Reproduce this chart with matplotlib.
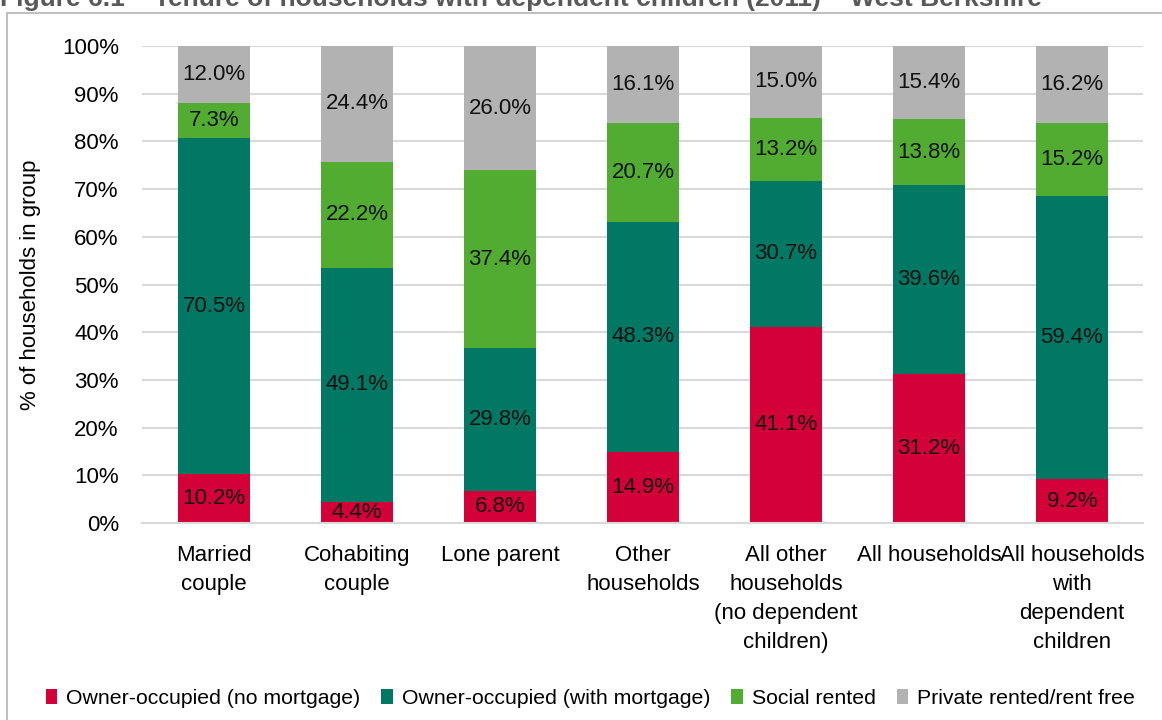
import numpy as np
import matplotlib.pyplot as plt
from matplotlib.patches import Rectangle

plt.rcParams['font.family'] = ['Liberation Sans', 'DejaVu Sans']

categories = ["Married\ncouple", "Cohabiting\ncouple", "Lone parent", "Other\nhouseholds",
              "All other\nhouseholds\n(no dependent\nchildren)", "All households",
              "All households\nwith\ndependent\nchildren"]
series_names = ["Owner-occupied (no mortgage)", "Owner-occupied (with mortgage)",
                "Social rented", "Private rented/rent free"]
no_mortgage = [10.2, 4.4, 6.8, 14.9, 41.1, 31.2, 9.2]
with_mortgage = [70.5, 49.1, 29.8, 48.3, 30.7, 39.6, 59.4]
social_rented = [7.3, 22.2, 37.4, 20.7, 13.2, 13.8, 15.2]
private_rented = [12.0, 24.4, 26.0, 16.1, 15.0, 15.4, 16.2]
colors = ["#D40038", "#007864", "#53AC32", "#B2B2B2"]

fig = plt.figure(figsize=(11.62, 7.2), dpi=100)
ax = fig.add_axes([0.1226, 0.2736, 0.8614, 0.6625])

# frame around the chart
fig.patches.append(Rectangle((7/1162, -0.01), 1.02, (720-13)/720 + 0.01, transform=fig.transFigure,
                             fill=False, edgecolor="#C0C0C0", linewidth=1.5))

# title sits partly above the picture, as in the source image
fig.text(0.0, (720-6)/720, "Figure 6.1 \u2013 Tenure of households with dependent children (2011) \u2013 West Berkshire",
         fontsize=19, fontweight='bold', color="#595959", va='baseline', ha='left')

x = np.arange(len(categories))
bottom = np.zeros(len(categories))
for name, vals, c in zip(series_names, [no_mortgage, with_mortgage, social_rented, private_rented], colors):
    vals = np.array(vals)
    ax.bar(x, vals, 0.5, bottom=bottom, color=c, label=name, zorder=2)
    for xi, b, v in zip(x, bottom, vals):
        ax.text(xi, b + v / 2, f"{v:.1f}%", ha='center', va='center', fontsize=16, color='#111111', zorder=3)
    bottom += vals

ax.set_xlim(-0.5, len(categories) - 0.5)
ax.set_ylim(0, 100)
ax.set_yticks(np.arange(0, 101, 10))
ax.set_yticklabels([f"{v}%" for v in range(0, 101, 10)], fontsize=16)
ax.set_xticks(x)
ax.set_xticklabels(categories, fontsize=16, linespacing=1.5, va='top')
ax.tick_params(axis='y', length=0, pad=17)
ax.tick_params(axis='x', length=0, pad=16)
ax.grid(axis='y', color='#D9D9D9', linewidth=1.5, zorder=0)
ax.set_axisbelow(True)
for s in ['top', 'right', 'left']:
    ax.spines[s].set_visible(False)
ax.spines['bottom'].set_color('#D9D9D9')
ax.spines['bottom'].set_linewidth(1.5)
ax.set_ylabel("% of households in group", fontsize=16, labelpad=15)

fig.legend(loc='center', bbox_to_anchor=(0.508, 22/720), ncol=4, frameon=False, fontsize=15.3,
           handlelength=0.55, handleheight=0.7, handletextpad=0.4, columnspacing=1.0)

fig.savefig("out.png", dpi=100)
